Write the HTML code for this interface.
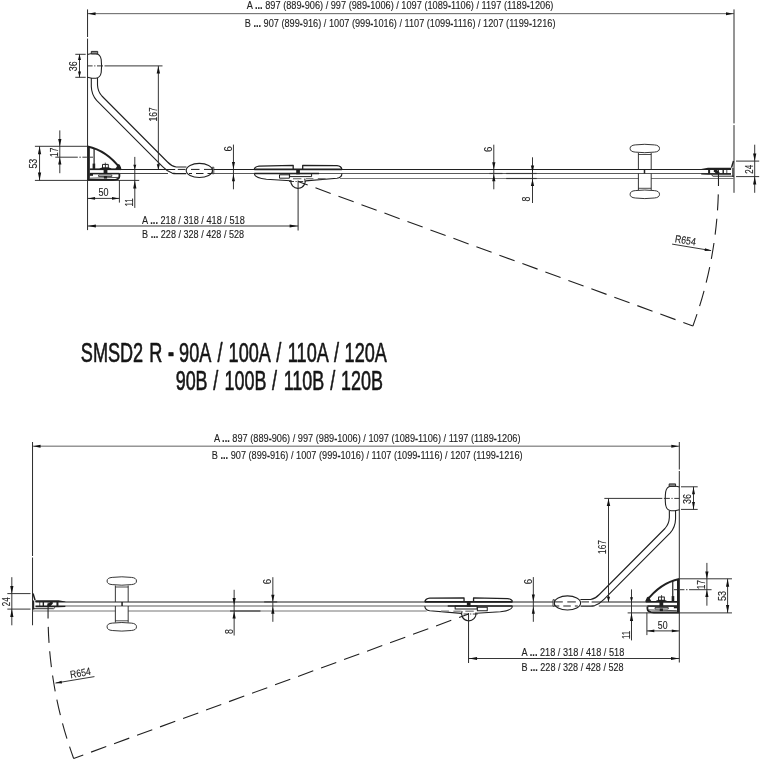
<!DOCTYPE html>
<html lang="cs">
<head>
<meta charset="utf-8">
<title>SMSD2 R</title>
<style>
html,body{margin:0;padding:0;background:#fff;}
body{width:762px;height:762px;overflow:hidden;}
svg{display:block;will-change:transform;}
text{font-family:"Liberation Sans",sans-serif;fill:#222;stroke:#222;stroke-width:0.12px;vector-effect:non-scaling-stroke;paint-order:stroke;stroke-linejoin:round;}
text.t{fill:#151515;stroke:#151515;stroke-width:0.62px;vector-effect:non-scaling-stroke;}
</style>
</head>
<body>
<svg width="762" height="762" viewBox="0 0 762 762">
<rect width="762" height="762" fill="#fff"/>
<g stroke="#202020" stroke-linecap="butt" stroke-linejoin="round">
<g>
<line x1="87.55" y1="9.4" x2="87.55" y2="37" stroke-width="1.0" stroke="#2b2b2b" />
<line x1="87.55" y1="38.6" x2="87.55" y2="230.1" stroke-width="1.0" stroke="#2b2b2b" />
<line x1="734.0" y1="9.4" x2="734.0" y2="123.4" stroke-width="1.0" stroke="#2b2b2b" />
<line x1="734.0" y1="125.1" x2="734.0" y2="192.8" stroke-width="1.0" stroke="#2b2b2b" />
<line x1="87.55" y1="13.67" x2="734.0" y2="13.67" stroke-width="0.75" stroke="#2b2b2b" />
<polygon points="87.95,13.70 95.55,12.23 95.55,15.17" fill="#111" stroke="none"/>
<polygon points="733.40,13.70 726.00,15.17 726.00,12.23" fill="#111" stroke="none"/>
<line x1="89.8" y1="169.42" x2="175.2" y2="169.42" stroke-width="1.05" />
<line x1="213.5" y1="169.42" x2="731" y2="169.42" stroke-width="1.05" />
<line x1="89.8" y1="173.5" x2="168" y2="173.5" stroke-width="1.0" stroke="#444"/>
<line x1="213.5" y1="173.5" x2="731" y2="173.5" stroke-width="1.0" stroke="#5a5a5a"/>
<line x1="340" y1="178.5" x2="638.4" y2="178.5" stroke-width="1.2" stroke="#777"/>
<line x1="651.2" y1="178.5" x2="734" y2="178.5" stroke-width="1.2" stroke="#777"/>
<path d="M87.55,54.5 Q89.5,53.8 91,53.8 H96 Q100.3,54.3 101.2,59.5 Q102,66 101.2,72.5 Q100.3,77.7 96,78.2 H92 Q89.5,78 87.55,77.3" stroke-width="1.1" fill="none"/>
<rect x="91.3" y="51.4" width="6.4" height="2.5" fill="#8a8a8a" stroke-width="0.9"/>
<line x1="87.6" y1="65.9" x2="103" y2="65.9" stroke-width="0.95" stroke="#2b2b2b" stroke-dasharray="5 1.6 1.2 1.6 7 1.5"/>
<path d="M91.3,78 V86.5 Q91.5,94.5 96.6,100.4 L162.6,166.6 Q167.5,171.6 172,173.1 Q174,173.6 176,173.6 H186.2" stroke-width="1.1" fill="none"/>
<path d="M97.5,78 V85 Q97.8,91.5 101.9,96 L167.5,162 Q171.5,166.2 176.2,167 H186.4" stroke-width="1.1" fill="none"/>
<ellipse cx="199.35" cy="170.45" rx="13.15" ry="7.05" fill="none" stroke-width="1.1"/>
<rect x="212.4" y="167.2" width="1.4" height="6.6" fill="none" stroke-width="0.8"/>
<line x1="177.8" y1="169.42" x2="185.5" y2="169.42" stroke-width="1.0" />
<line x1="191" y1="169.42" x2="199.5" y2="169.42" stroke-width="1.0" />
<line x1="204" y1="169.42" x2="212.3" y2="169.42" stroke-width="1.0" />
<line x1="189" y1="173.5" x2="192" y2="173.5" stroke-width="1.0" />
<line x1="196" y1="173.5" x2="203.5" y2="173.5" stroke-width="1.0" />
<line x1="207.5" y1="173.5" x2="212.3" y2="173.5" stroke-width="1.0" />
<path d="M87.55,146.5 Q106.8,150.5 120.6,168.9" stroke-width="1.85" fill="none"/>
<line x1="88.7" y1="146.8" x2="88.7" y2="180.3" stroke-width="2.3" />
<line x1="94.1" y1="148.3" x2="94.1" y2="168.9" stroke-width="1.2" />
<path d="M115,169.6 L118.3,163.9 L119.8,164.8 Q121,167 121.4,169.6 Z" fill="#202020" stroke="none"/>
<line x1="89.8" y1="169.25" x2="121" y2="169.25" stroke-width="1.7" />
<path d="M92.6,163.6 H95.2 V168.9 H92.6 Z" fill="#202020" stroke="none"/>
<path d="M89.5,174 H93 V175.8 H89.5 Z" fill="#202020" stroke="none"/>
<path d="M87.55,180 H113 Q119.4,179.8 119.4,176.2 V174" stroke-width="1.8" fill="none"/>
<line x1="90" y1="178.2" x2="118.5" y2="177.4" stroke-width="0.8" />
<rect x="102.5" y="164.4" width="5.8" height="4.4" fill="none" stroke-width="1"/>
<line x1="105.4" y1="164.4" x2="105.4" y2="168.8" stroke-width="0.9" />
<path d="M98.6,169.4 Q100.5,167.5 103,167.2 H108 Q110.5,167.5 112.4,169.4 Z" fill="#202020" stroke="none"/>
<line x1="89.8" y1="173.6" x2="119.4" y2="173.6" stroke-width="1.5" />
<path d="M103.6,168.8 H107.4 V174 H103.6 Z" fill="#202020" stroke="none"/>
<rect x="98.6" y="175" width="13.2" height="1.5" fill="#fff" stroke-width="0.8"/>
<path d="M103.9,176 H107.1 V178.6 H103.9 Z" fill="#202020" stroke="none"/>
<line x1="105.3" y1="162.6" x2="105.3" y2="164.5" stroke-width="0.8" />
<path d="M254.3,169.2 Q254.8,166.6 259,166.1 L293.2,165.3 V169" stroke-width="1.3" fill="none"/>
<path d="M302.7,169 V165.4 L337,165.7 Q341.3,166.1 341.9,169.4" stroke-width="1.3" fill="none"/>
<line x1="254.3" y1="169.42" x2="341.9" y2="169.42" stroke-width="1.7" />
<line x1="254.3" y1="173.5" x2="319" y2="173.5" stroke-width="1.6" />
<path d="M254.3,173.8 Q254.8,178 266.4,179.2 L290.5,180.8" stroke-width="1.1" fill="none"/>
<path d="M341.9,173.6 Q341.9,177.6 337,178.3 L305.5,180.9" stroke-width="1.1" fill="none"/>
<rect x="279.5" y="174.8" width="9.9" height="3.4" fill="none" stroke-width="1"/>
<rect x="289.6" y="173.6" width="22" height="3" fill="none" stroke-width="1"/>
<line x1="293" y1="178.7" x2="301.4" y2="178.7" stroke-width="1.2" stroke="#777"/>
<line x1="306" y1="178.7" x2="313.4" y2="178.7" stroke-width="1.2" stroke="#777"/>
<line x1="317.8" y1="178.6" x2="325.7" y2="178.6" stroke-width="1.2" stroke="#777"/>
<path d="M290.90000000000003,180.0 A7.2,7.2 0 1 0 304.70000000000005,178.5" stroke-width="1.1" fill="none"/>
<line x1="289" y1="181.5" x2="306.7" y2="181.5" stroke-width="0.9" stroke="#2b2b2b" stroke-dasharray="5 1.5 1.2 1.5"/>
<line x1="298.1" y1="180.5" x2="298.1" y2="230.5" stroke-width="1.0" stroke="#2b2b2b" />
<path d="M296.2,169 H299.9 V174.3 H296.2 Z" fill="#202020" stroke="none"/>
<path d="M635.2,144.9 Q644.7,143.70000000000002 654.4,144.9 Q659.5,145.3 659.5,148.5 Q659.5,151.7 654.4,152.1 Q644.7,153.29999999999998 635.2,152.1 Q630.1,151.7 630.1,148.5 Q630.1,145.3 635.2,144.9 Z" stroke-width="0.9" fill="none"/>
<path d="M635.3000000000001,190.6 Q644.7,189.4 654.3,190.6 Q659.5,191.0 659.5,194.3 Q659.5,197.6 654.3,198.0 Q644.7,199.2 635.3000000000001,198.0 Q630.1,197.6 630.1,194.3 Q630.1,191.0 635.3000000000001,190.6 Z" stroke-width="0.9" fill="none"/>
<line x1="638.4" y1="153" x2="638.4" y2="169.42" stroke-width="0.9" />
<line x1="651.2" y1="153" x2="651.2" y2="169.42" stroke-width="0.9" />
<line x1="638.4" y1="173.5" x2="638.4" y2="190" stroke-width="0.9" />
<line x1="651.2" y1="173.5" x2="651.2" y2="190" stroke-width="0.9" />
<line x1="638.4" y1="154.5" x2="651.2" y2="154.5" stroke-width="0.8" />
<line x1="638.4" y1="188.3" x2="651.2" y2="188.3" stroke-width="0.8" />
<line x1="644.5" y1="169.42" x2="644.5" y2="173.5" stroke-width="1.5" />
<path d="M701.2,168.9 L708,167.75 L731.2,167.75 L731.2,169.5 L701.2,169.6 Z" fill="#202020" stroke="none"/>
<line x1="733.5" y1="161" x2="731.5" y2="167.6" stroke-width="1.5" />
<path d="M701.2,173.3 L731,173.3 V174.7 H708 L701.2,174.4 Z" fill="#202020" stroke="none"/>
<path d="M708.1,169 H710.1 V174 H708.1 Z" fill="#202020" stroke="none"/>
<path d="M713.8,169.3 L716.3,169.3 L719.2,172.2 L719.2,174 L716.4,174 L713.8,171.3 Z" fill="#202020" stroke="none"/>
<path d="M722.5,169 H723.9 V174 H722.5 Z" fill="#202020" stroke="none"/>
<line x1="726.8" y1="169" x2="726.8" y2="174" stroke-width="0.8" />
<line x1="732.9" y1="168" x2="732.9" y2="177" stroke-width="1.2" />
<path d="M734,176.2 H713 L711.4,174.8" stroke-width="0.95" fill="none"/>
<path d="M718.34,170.00 A420.4,420.4 0 0 1 692.90,325.97" stroke-width="1.1" fill="none" stroke-dasharray="16 8.4"/>
<path d="M298.10,181.50 L692.90,325.97" stroke-width="1.1" fill="none" stroke-dasharray="16.2 8.28" stroke-dashoffset="5.98"/>
<line x1="672.1" y1="244.1" x2="711.1" y2="250.6" stroke-width="0.95" stroke="#2b2b2b" />
<polygon points="711.10,250.60 704.55,250.95 705.02,248.15" fill="#111" stroke="none"/>
<line x1="104.5" y1="65.9" x2="162.5" y2="65.9" stroke-width="0.95" stroke="#2b2b2b" />
<line x1="158.35" y1="65.9" x2="158.35" y2="169.42" stroke-width="0.95" stroke="#2b2b2b" />
<polygon points="158.35,66.30 160.07,73.50 156.63,73.50" fill="#111" stroke="none"/>
<polygon points="158.35,169.62 156.78,164.22 159.92,164.22" fill="#111" stroke="none"/>
<line x1="34.9" y1="146.3" x2="87.55" y2="146.3" stroke-width="0.95" stroke="#2b2b2b" />
<line x1="34.9" y1="180.4" x2="139.2" y2="180.4" stroke-width="0.95" stroke="#2b2b2b" />
<line x1="39.55" y1="146.3" x2="39.55" y2="180.4" stroke-width="0.95" stroke="#2b2b2b" />
<polygon points="39.55,146.30 41.17,154.30 37.93,154.30" fill="#111" stroke="none"/>
<polygon points="39.55,180.40 37.93,172.40 41.17,172.40" fill="#111" stroke="none"/>
<line x1="59.8" y1="130.4" x2="59.8" y2="173.2" stroke-width="0.95" stroke="#2b2b2b" />
<polygon points="59.80,146.30 58.18,138.90 61.42,138.90" fill="#111" stroke="none"/>
<polygon points="59.80,157.40 61.42,164.40 58.18,164.40" fill="#111" stroke="none"/>
<line x1="55.3" y1="157.2" x2="93" y2="157.2" stroke-width="0.95" stroke="#2b2b2b" stroke-dasharray="22.5 1.6 1.4 1.6 4.5 2.7 4"/>
<line x1="119.4" y1="180" x2="119.4" y2="202.6" stroke-width="0.95" stroke="#2b2b2b" />
<line x1="87.55" y1="198.4" x2="119.4" y2="198.4" stroke-width="0.95" stroke="#2b2b2b" />
<polygon points="87.85,198.40 95.05,196.98 95.05,199.82" fill="#111" stroke="none"/>
<polygon points="119.20,198.40 112.00,199.82 112.00,196.98" fill="#111" stroke="none"/>
<line x1="134.8" y1="156.9" x2="134.8" y2="207.9" stroke-width="0.95" stroke="#2b2b2b" />
<polygon points="134.80,169.62 133.33,164.82 136.27,164.82" fill="#111" stroke="none"/>
<polygon points="134.80,180.60 136.42,188.40 133.18,188.40" fill="#111" stroke="none"/>
<line x1="233.45" y1="144.6" x2="233.45" y2="189.3" stroke-width="0.95" stroke="#2b2b2b" />
<polygon points="233.45,169.20 231.93,162.00 234.97,162.00" fill="#111" stroke="none"/>
<polygon points="233.45,174.00 234.97,181.20 231.93,181.20" fill="#111" stroke="none"/>
<line x1="493.8" y1="144.7" x2="493.8" y2="189.3" stroke-width="0.95" stroke="#2b2b2b" />
<polygon points="493.80,169.20 492.18,162.20 495.42,162.20" fill="#111" stroke="none"/>
<polygon points="493.80,174.30 495.42,181.30 492.18,181.30" fill="#111" stroke="none"/>
<line x1="489.4" y1="173.5" x2="502.5" y2="173.5" stroke-width="1.15" stroke="#3a3a3a"/>
<line x1="506.2" y1="173.5" x2="536.7" y2="173.5" stroke-width="1.15" stroke="#3a3a3a"/>
<line x1="506.2" y1="178.5" x2="536.7" y2="178.5" stroke-width="1.15" stroke="#3a3a3a"/>
<line x1="532.5" y1="157.3" x2="532.5" y2="203" stroke-width="0.95" stroke="#2b2b2b" />
<polygon points="532.50,172.40 530.88,165.40 534.12,165.40" fill="#111" stroke="none"/>
<polygon points="532.50,179.00 534.12,186.00 530.88,186.00" fill="#111" stroke="none"/>
<line x1="736" y1="161.1" x2="759.2" y2="161.1" stroke-width="0.95" stroke="#2b2b2b" />
<line x1="736" y1="176.6" x2="759.2" y2="176.6" stroke-width="0.95" stroke="#2b2b2b" />
<line x1="754.7" y1="144.7" x2="754.7" y2="192.8" stroke-width="0.95" stroke="#2b2b2b" />
<polygon points="754.70,161.10 753.08,153.50 756.32,153.50" fill="#111" stroke="none"/>
<polygon points="754.70,176.60 756.32,184.40 753.08,184.40" fill="#111" stroke="none"/>
<line x1="87.55" y1="226.0" x2="298.1" y2="226.0" stroke-width="0.95" stroke="#2b2b2b" />
<polygon points="87.85,226.00 95.85,224.53 95.85,227.47" fill="#111" stroke="none"/>
<polygon points="297.60,226.00 289.60,227.47 289.60,224.53" fill="#111" stroke="none"/>
<line x1="75.3" y1="54.3" x2="85.7" y2="54.3" stroke-width="0.95" stroke="#2b2b2b" />
<line x1="75.3" y1="77.3" x2="85.7" y2="77.3" stroke-width="0.95" stroke="#2b2b2b" />
<line x1="79.5" y1="54.3" x2="79.5" y2="77.3" stroke-width="0.95" stroke="#2b2b2b" />
<polygon points="79.50,54.30 81.02,60.10 77.98,60.10" fill="#111" stroke="none"/>
<polygon points="79.50,77.30 77.98,71.50 81.02,71.50" fill="#111" stroke="none"/>
</g>
<g transform="translate(766.9,432.5) scale(-1.0005,1)">
<line x1="87.55" y1="9.4" x2="87.55" y2="37" stroke-width="1.0" stroke="#2b2b2b" />
<line x1="87.55" y1="38.6" x2="87.55" y2="230.1" stroke-width="1.0" stroke="#2b2b2b" />
<line x1="734.0" y1="9.4" x2="734.0" y2="123.4" stroke-width="1.0" stroke="#2b2b2b" />
<line x1="734.0" y1="125.1" x2="734.0" y2="192.8" stroke-width="1.0" stroke="#2b2b2b" />
<line x1="87.55" y1="13.67" x2="734.0" y2="13.67" stroke-width="0.75" stroke="#2b2b2b" />
<polygon points="87.95,13.70 95.55,12.23 95.55,15.17" fill="#111" stroke="none"/>
<polygon points="733.40,13.70 726.00,15.17 726.00,12.23" fill="#111" stroke="none"/>
<line x1="89.8" y1="169.42" x2="175.2" y2="169.42" stroke-width="1.05" />
<line x1="213.5" y1="169.42" x2="731" y2="169.42" stroke-width="1.05" />
<line x1="89.8" y1="173.5" x2="168" y2="173.5" stroke-width="1.0" stroke="#444"/>
<line x1="213.5" y1="173.5" x2="731" y2="173.5" stroke-width="1.0" stroke="#5a5a5a"/>
<line x1="340" y1="178.5" x2="638.4" y2="178.5" stroke-width="1.2" stroke="#777"/>
<line x1="651.2" y1="178.5" x2="734" y2="178.5" stroke-width="1.2" stroke="#777"/>
<path d="M87.55,54.5 Q89.5,53.8 91,53.8 H96 Q100.3,54.3 101.2,59.5 Q102,66 101.2,72.5 Q100.3,77.7 96,78.2 H92 Q89.5,78 87.55,77.3" stroke-width="1.1" fill="none"/>
<rect x="91.3" y="51.4" width="6.4" height="2.5" fill="#8a8a8a" stroke-width="0.9"/>
<line x1="87.6" y1="65.9" x2="103" y2="65.9" stroke-width="0.95" stroke="#2b2b2b" stroke-dasharray="5 1.6 1.2 1.6 7 1.5"/>
<path d="M91.3,78 V86.5 Q91.5,94.5 96.6,100.4 L162.6,166.6 Q167.5,171.6 172,173.1 Q174,173.6 176,173.6 H186.2" stroke-width="1.1" fill="none"/>
<path d="M97.5,78 V85 Q97.8,91.5 101.9,96 L167.5,162 Q171.5,166.2 176.2,167 H186.4" stroke-width="1.1" fill="none"/>
<ellipse cx="199.35" cy="170.45" rx="13.15" ry="7.05" fill="none" stroke-width="1.1"/>
<rect x="212.4" y="167.2" width="1.4" height="6.6" fill="none" stroke-width="0.8"/>
<line x1="177.8" y1="169.42" x2="185.5" y2="169.42" stroke-width="1.0" />
<line x1="191" y1="169.42" x2="199.5" y2="169.42" stroke-width="1.0" />
<line x1="204" y1="169.42" x2="212.3" y2="169.42" stroke-width="1.0" />
<line x1="189" y1="173.5" x2="192" y2="173.5" stroke-width="1.0" />
<line x1="196" y1="173.5" x2="203.5" y2="173.5" stroke-width="1.0" />
<line x1="207.5" y1="173.5" x2="212.3" y2="173.5" stroke-width="1.0" />
<path d="M87.55,146.5 Q106.8,150.5 120.6,168.9" stroke-width="1.85" fill="none"/>
<line x1="88.7" y1="146.8" x2="88.7" y2="180.3" stroke-width="2.3" />
<line x1="94.1" y1="148.3" x2="94.1" y2="168.9" stroke-width="1.2" />
<path d="M115,169.6 L118.3,163.9 L119.8,164.8 Q121,167 121.4,169.6 Z" fill="#202020" stroke="none"/>
<line x1="89.8" y1="169.25" x2="121" y2="169.25" stroke-width="1.7" />
<path d="M92.6,163.6 H95.2 V168.9 H92.6 Z" fill="#202020" stroke="none"/>
<path d="M89.5,174 H93 V175.8 H89.5 Z" fill="#202020" stroke="none"/>
<path d="M87.55,180 H113 Q119.4,179.8 119.4,176.2 V174" stroke-width="1.8" fill="none"/>
<line x1="90" y1="178.2" x2="118.5" y2="177.4" stroke-width="0.8" />
<rect x="102.5" y="164.4" width="5.8" height="4.4" fill="none" stroke-width="1"/>
<line x1="105.4" y1="164.4" x2="105.4" y2="168.8" stroke-width="0.9" />
<path d="M98.6,169.4 Q100.5,167.5 103,167.2 H108 Q110.5,167.5 112.4,169.4 Z" fill="#202020" stroke="none"/>
<line x1="89.8" y1="173.6" x2="119.4" y2="173.6" stroke-width="1.5" />
<path d="M103.6,168.8 H107.4 V174 H103.6 Z" fill="#202020" stroke="none"/>
<rect x="98.6" y="175" width="13.2" height="1.5" fill="#fff" stroke-width="0.8"/>
<path d="M103.9,176 H107.1 V178.6 H103.9 Z" fill="#202020" stroke="none"/>
<line x1="105.3" y1="162.6" x2="105.3" y2="164.5" stroke-width="0.8" />
<path d="M254.3,169.2 Q254.8,166.6 259,166.1 L293.2,165.3 V169" stroke-width="1.3" fill="none"/>
<path d="M302.7,169 V165.4 L337,165.7 Q341.3,166.1 341.9,169.4" stroke-width="1.3" fill="none"/>
<line x1="254.3" y1="169.42" x2="341.9" y2="169.42" stroke-width="1.7" />
<line x1="254.3" y1="173.5" x2="319" y2="173.5" stroke-width="1.6" />
<path d="M254.3,173.8 Q254.8,178 266.4,179.2 L290.5,180.8" stroke-width="1.1" fill="none"/>
<path d="M341.9,173.6 Q341.9,177.6 337,178.3 L305.5,180.9" stroke-width="1.1" fill="none"/>
<rect x="279.5" y="174.8" width="9.9" height="3.4" fill="none" stroke-width="1"/>
<rect x="289.6" y="173.6" width="22" height="3" fill="none" stroke-width="1"/>
<line x1="293" y1="178.7" x2="301.4" y2="178.7" stroke-width="1.2" stroke="#777"/>
<line x1="306" y1="178.7" x2="313.4" y2="178.7" stroke-width="1.2" stroke="#777"/>
<line x1="317.8" y1="178.6" x2="325.7" y2="178.6" stroke-width="1.2" stroke="#777"/>
<path d="M290.90000000000003,180.0 A7.2,7.2 0 1 0 304.70000000000005,178.5" stroke-width="1.1" fill="none"/>
<line x1="289" y1="181.5" x2="306.7" y2="181.5" stroke-width="0.9" stroke="#2b2b2b" stroke-dasharray="5 1.5 1.2 1.5"/>
<line x1="298.2" y1="180.5" x2="298.2" y2="230.5" stroke-width="1.0" stroke="#2b2b2b" />
<path d="M296.2,169 H299.9 V174.3 H296.2 Z" fill="#202020" stroke="none"/>
<path d="M635.2,144.9 Q644.7,143.70000000000002 654.4,144.9 Q659.5,145.3 659.5,148.5 Q659.5,151.7 654.4,152.1 Q644.7,153.29999999999998 635.2,152.1 Q630.1,151.7 630.1,148.5 Q630.1,145.3 635.2,144.9 Z" stroke-width="0.9" fill="none"/>
<path d="M635.3000000000001,190.6 Q644.7,189.4 654.3,190.6 Q659.5,191.0 659.5,194.3 Q659.5,197.6 654.3,198.0 Q644.7,199.2 635.3000000000001,198.0 Q630.1,197.6 630.1,194.3 Q630.1,191.0 635.3000000000001,190.6 Z" stroke-width="0.9" fill="none"/>
<line x1="638.4" y1="153" x2="638.4" y2="169.42" stroke-width="0.9" />
<line x1="651.2" y1="153" x2="651.2" y2="169.42" stroke-width="0.9" />
<line x1="638.4" y1="173.5" x2="638.4" y2="190" stroke-width="0.9" />
<line x1="651.2" y1="173.5" x2="651.2" y2="190" stroke-width="0.9" />
<line x1="638.4" y1="154.5" x2="651.2" y2="154.5" stroke-width="0.8" />
<line x1="638.4" y1="188.3" x2="651.2" y2="188.3" stroke-width="0.8" />
<line x1="644.5" y1="169.42" x2="644.5" y2="173.5" stroke-width="1.5" />
<path d="M701.2,168.9 L708,167.75 L731.2,167.75 L731.2,169.5 L701.2,169.6 Z" fill="#202020" stroke="none"/>
<line x1="733.5" y1="161" x2="731.5" y2="167.6" stroke-width="1.5" />
<path d="M701.2,173.3 L731,173.3 V174.7 H708 L701.2,174.4 Z" fill="#202020" stroke="none"/>
<path d="M708.1,169 H710.1 V174 H708.1 Z" fill="#202020" stroke="none"/>
<path d="M713.8,169.3 L716.3,169.3 L719.2,172.2 L719.2,174 L716.4,174 L713.8,171.3 Z" fill="#202020" stroke="none"/>
<path d="M722.5,169 H723.9 V174 H722.5 Z" fill="#202020" stroke="none"/>
<line x1="726.8" y1="169" x2="726.8" y2="174" stroke-width="0.8" />
<line x1="732.9" y1="168" x2="732.9" y2="177" stroke-width="1.2" />
<path d="M734,176.2 H713 L711.4,174.8" stroke-width="0.95" fill="none"/>
<path d="M718.34,170.00 A420.4,420.4 0 0 1 692.90,325.97" stroke-width="1.1" fill="none" stroke-dasharray="16 8.4"/>
<path d="M298.10,181.50 L692.90,325.97" stroke-width="1.1" fill="none" stroke-dasharray="16.2 8.28" stroke-dashoffset="5.98"/>
<line x1="672.1" y1="244.1" x2="711.1" y2="250.6" stroke-width="0.95" stroke="#2b2b2b" />
<polygon points="711.10,250.60 704.55,250.95 705.02,248.15" fill="#111" stroke="none"/>
<line x1="104.5" y1="65.9" x2="162.5" y2="65.9" stroke-width="0.95" stroke="#2b2b2b" />
<line x1="158.32" y1="65.9" x2="158.32" y2="169.42" stroke-width="0.95" stroke="#2b2b2b" />
<polygon points="158.32,66.30 160.04,73.50 156.60,73.50" fill="#111" stroke="none"/>
<polygon points="158.32,169.62 156.75,164.22 159.89,164.22" fill="#111" stroke="none"/>
<line x1="34.9" y1="146.3" x2="87.55" y2="146.3" stroke-width="0.95" stroke="#2b2b2b" />
<line x1="34.9" y1="180.4" x2="139.2" y2="180.4" stroke-width="0.95" stroke="#2b2b2b" />
<line x1="39.28" y1="146.3" x2="39.28" y2="180.4" stroke-width="0.95" stroke="#2b2b2b" />
<polygon points="39.28,146.30 40.90,154.30 37.66,154.30" fill="#111" stroke="none"/>
<polygon points="39.28,180.40 37.66,172.40 40.90,172.40" fill="#111" stroke="none"/>
<line x1="59.97" y1="130.4" x2="59.97" y2="173.2" stroke-width="0.95" stroke="#2b2b2b" />
<polygon points="59.97,146.30 58.35,138.90 61.59,138.90" fill="#111" stroke="none"/>
<polygon points="59.97,157.40 61.59,164.40 58.35,164.40" fill="#111" stroke="none"/>
<line x1="55.3" y1="157.2" x2="93" y2="157.2" stroke-width="0.95" stroke="#2b2b2b" stroke-dasharray="22.5 1.6 1.4 1.6 4.5 2.7 4"/>
<line x1="119.94" y1="180" x2="119.94" y2="202.6" stroke-width="0.95" stroke="#2b2b2b" />
<line x1="87.55" y1="198.4" x2="119.94" y2="198.4" stroke-width="0.95" stroke="#2b2b2b" />
<polygon points="87.85,198.40 95.05,196.98 95.05,199.82" fill="#111" stroke="none"/>
<polygon points="119.74,198.40 112.54,199.82 112.54,196.98" fill="#111" stroke="none"/>
<line x1="135.33" y1="156.9" x2="135.33" y2="207.9" stroke-width="0.95" stroke="#2b2b2b" />
<polygon points="135.33,169.62 133.86,164.82 136.80,164.82" fill="#111" stroke="none"/>
<polygon points="135.33,180.60 136.95,188.40 133.71,188.40" fill="#111" stroke="none"/>
<line x1="233.45" y1="144.6" x2="233.45" y2="189.3" stroke-width="0.95" stroke="#2b2b2b" />
<polygon points="233.45,169.20 231.93,162.00 234.97,162.00" fill="#111" stroke="none"/>
<polygon points="233.45,174.00 234.97,181.20 231.93,181.20" fill="#111" stroke="none"/>
<line x1="493.8" y1="144.7" x2="493.8" y2="189.3" stroke-width="0.95" stroke="#2b2b2b" />
<polygon points="493.80,169.20 492.18,162.20 495.42,162.20" fill="#111" stroke="none"/>
<polygon points="493.80,174.30 495.42,181.30 492.18,181.30" fill="#111" stroke="none"/>
<line x1="489.5" y1="169.42" x2="502.5" y2="169.42" stroke-width="1.15" stroke="#3a3a3a"/>
<line x1="506.2" y1="178.5" x2="536.6" y2="178.5" stroke-width="1.15" stroke="#3a3a3a"/>
<line x1="532.5" y1="157.3" x2="532.5" y2="203" stroke-width="0.95" stroke="#2b2b2b" />
<polygon points="532.50,172.40 530.88,165.40 534.12,165.40" fill="#111" stroke="none"/>
<polygon points="532.50,179.00 534.12,186.00 530.88,186.00" fill="#111" stroke="none"/>
<line x1="736" y1="161.1" x2="759.2" y2="161.1" stroke-width="0.95" stroke="#2b2b2b" />
<line x1="736" y1="176.6" x2="759.2" y2="176.6" stroke-width="0.95" stroke="#2b2b2b" />
<line x1="754.7" y1="144.7" x2="754.7" y2="192.8" stroke-width="0.95" stroke="#2b2b2b" />
<polygon points="754.70,161.10 753.08,153.50 756.32,153.50" fill="#111" stroke="none"/>
<polygon points="754.70,176.60 756.32,184.40 753.08,184.40" fill="#111" stroke="none"/>
<line x1="87.55" y1="226.0" x2="298.2" y2="226.0" stroke-width="0.95" stroke="#2b2b2b" />
<polygon points="87.85,226.00 95.85,224.53 95.85,227.47" fill="#111" stroke="none"/>
<polygon points="297.70,226.00 289.70,227.47 289.70,224.53" fill="#111" stroke="none"/>
</g>
<g>
<line x1="681" y1="486.8" x2="697.7" y2="486.8" stroke-width="0.95" stroke="#2b2b2b" />
<line x1="681" y1="509.4" x2="697.7" y2="509.4" stroke-width="0.95" stroke="#2b2b2b" />
<line x1="693.5" y1="486.8" x2="693.5" y2="509.4" stroke-width="0.95" stroke="#2b2b2b" />
<polygon points="693.50,486.80 694.97,494.20 692.03,494.20" fill="#111" stroke="none"/>
<polygon points="693.50,509.40 692.03,502.00 694.97,502.00" fill="#111" stroke="none"/>
</g>
</g>
<g>
<text transform="translate(246.80,9.1) scale(0.7805,1)" font-size="11.8">A <tspan font-weight="bold">...</tspan> 897 (889<tspan font-weight="bold">-</tspan>906) / 997 (989<tspan font-weight="bold">-</tspan>1006) / 1097 (1089<tspan font-weight="bold">-</tspan>1106) / 1197 (1189<tspan font-weight="bold">-</tspan>1206)</text>
<text transform="translate(244.70,26.8) scale(0.7791,1)" font-size="11.8">B <tspan font-weight="bold">...</tspan> 907 (899<tspan font-weight="bold">-</tspan>916) / 1007 (999<tspan font-weight="bold">-</tspan>1016) / 1107 (1099<tspan font-weight="bold">-</tspan>1116) / 1207 (1199<tspan font-weight="bold">-</tspan>1216)</text>
<text transform="translate(142.10,223.9) scale(0.7796,1)" font-size="11.8">A <tspan font-weight="bold">...</tspan> 218 / 318 / 418 / 518</text>
<text transform="translate(142.10,238.1) scale(0.7712,1)" font-size="11.8">B <tspan font-weight="bold">...</tspan> 228 / 328 / 428 / 528</text>
<text transform="translate(77.2,71.20) rotate(-90) scale(0.7558,1)" font-size="11.8">36</text>
<text transform="translate(156.6,121.40) rotate(-90) scale(0.7206,1)" font-size="11.8">167</text>
<text transform="translate(37.3,168.60) rotate(-90) scale(0.7558,1)" font-size="11.8">53</text>
<text transform="translate(57.8,156.90) rotate(-90) scale(0.6948,1)" font-size="11.8">17</text>
<text transform="translate(98.50,196.4) scale(0.7635,1)" font-size="11.8">50</text>
<text transform="translate(132.9,206.50) rotate(-90) scale(0.6519,1)" font-size="11.8">11</text>
<text transform="translate(231.7,151.50) rotate(-90) scale(0.8093,1)" font-size="11.8">6</text>
<text transform="translate(492.0,152.10) rotate(-90) scale(0.8093,1)" font-size="11.8">6</text>
<text transform="translate(530.4,201.40) rotate(-90) scale(0.7482,1)" font-size="11.8">8</text>
<text transform="translate(752.9,173.70) rotate(-90) scale(0.6795,1)" font-size="11.8">24</text>
<text transform="translate(684.9,243.9) rotate(9.0) translate(-10.50,0) scale(0.8289,1)" font-size="10.6">R654</text>
<text class="t" transform="translate(0,362.0) scale(0.6709,1)" font-size="27" xml:space="preserve"><tspan x="120.44">SMSD2 </tspan><tspan x="222.37">R </tspan><tspan x="250.37"><tspan font-weight="bold">-</tspan> </tspan><tspan x="267.01">90A </tspan><tspan x="324.38">/ </tspan><tspan x="340.69">100A </tspan><tspan x="411.80">/ </tspan><tspan x="429.06">110A </tspan><tspan x="497.74">/ </tspan><tspan x="513.68">120A</tspan></text>
<text class="t" transform="translate(0,389.6) scale(0.6651,1)" font-size="27" xml:space="preserve"><tspan x="264.11">90B </tspan><tspan x="320.75">/ </tspan><tspan x="337.51">100B </tspan><tspan x="409.00">/ </tspan><tspan x="426.55">110B </tspan><tspan x="496.66">/ </tspan><tspan x="512.74">120B</tspan></text>
<text transform="translate(213.90,441.6) scale(0.7805,1)" font-size="11.8">A <tspan font-weight="bold">...</tspan> 897 (889<tspan font-weight="bold">-</tspan>906) / 997 (989<tspan font-weight="bold">-</tspan>1006) / 1097 (1089<tspan font-weight="bold">-</tspan>1106) / 1197 (1189<tspan font-weight="bold">-</tspan>1206)</text>
<text transform="translate(211.80,459.3) scale(0.7791,1)" font-size="11.8">B <tspan font-weight="bold">...</tspan> 907 (899<tspan font-weight="bold">-</tspan>916) / 1007 (999<tspan font-weight="bold">-</tspan>1016) / 1107 (1099<tspan font-weight="bold">-</tspan>1116) / 1207 (1199<tspan font-weight="bold">-</tspan>1216)</text>
<text transform="translate(521.60,656.4) scale(0.7796,1)" font-size="11.8">A <tspan font-weight="bold">...</tspan> 218 / 318 / 418 / 518</text>
<text transform="translate(521.60,670.6) scale(0.7712,1)" font-size="11.8">B <tspan font-weight="bold">...</tspan> 228 / 328 / 428 / 528</text>
<text transform="translate(691.4,503.90) rotate(-90) scale(0.7558,1)" font-size="11.8">36</text>
<text transform="translate(606.4,553.90) rotate(-90) scale(0.7003,1)" font-size="11.8">167</text>
<text transform="translate(725.8,600.90) rotate(-90) scale(0.7635,1)" font-size="11.8">53</text>
<text transform="translate(705.0,589.30) rotate(-90) scale(0.6948,1)" font-size="11.8">17</text>
<text transform="translate(657.80,628.6) scale(0.7406,1)" font-size="11.8">50</text>
<text transform="translate(630.2,639.00) rotate(-90) scale(0.6519,1)" font-size="11.8">11</text>
<text transform="translate(531.6,584.30) rotate(-90) scale(0.8093,1)" font-size="11.8">6</text>
<text transform="translate(271.2,584.30) rotate(-90) scale(0.8093,1)" font-size="11.8">6</text>
<text transform="translate(232.5,633.90) rotate(-90) scale(0.7482,1)" font-size="11.8">8</text>
<text transform="translate(10.3,606.20) rotate(-90) scale(0.6795,1)" font-size="11.8">24</text>
<text transform="translate(81.0,676.5) rotate(-9.6) translate(-10.30,0) scale(0.8131,1)" font-size="10.6">R654</text>
</g>
</svg>
</body>
</html>
